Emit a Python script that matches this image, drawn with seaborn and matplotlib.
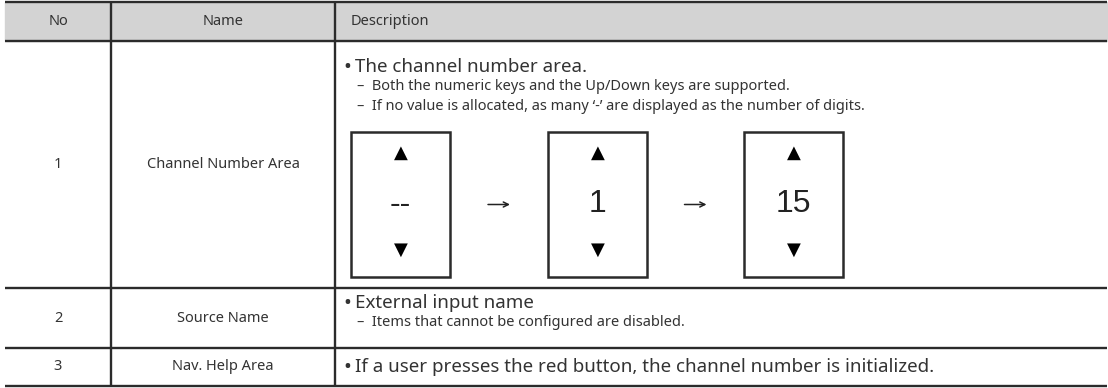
import matplotlib
matplotlib.use("Agg")
import matplotlib.pyplot as plt
import seaborn as sns

# --- table content ---
headers = ["No", "Name", "Description"]
row_numbers = ["1", "2", "3"]
row_names = ["Channel Number Area", "Source Name", "Nav. Help Area"]
bullets = [
    "The channel number area.",
    "External input name",
    "If a user presses the red button, the channel number is initialized.",
]
sub_items = [
    ["Both the numeric keys and the Up/Down keys are supported.",
     "If no value is allocated, as many \u2018-\u2019 are displayed as the number of digits."],
    ["Items that cannot be configured are disabled."],
    [],
]
box_values = ["--", "1", "15"]

# --- layout (pixels) ---
W, H = 1108, 388
col_edges = [5, 111, 335, 1107]
row_edges = [2, 41, 288, 348, 386]
text_color = "#333333"
line_color = "#2b2b2b"
header_bg = "#d3d3d3"

sns.set_theme(style="white")
plt.rcParams["font.family"] = ["Noto Sans", "DejaVu Sans"]

fig = plt.figure(figsize=(W / 100, H / 100), dpi=100)
ax = fig.add_axes([0, 0, 1, 1])
ax.set_xlim(0, W)
ax.set_ylim(H, 0)
ax.axis("off")

# header background
ax.add_patch(plt.Rectangle((col_edges[0], row_edges[0]), col_edges[-1] - col_edges[0],
                           row_edges[1] - row_edges[0], color=header_bg, zorder=0))

# grid lines
for y in row_edges:
    ax.plot([col_edges[0], col_edges[-1]], [y, y], color=line_color, lw=1.7, solid_capstyle="butt")
for x in col_edges[1:-1]:
    ax.plot([x, x], [row_edges[0], row_edges[-1]], color=line_color, lw=1.7, solid_capstyle="butt")

# header text
hy = (row_edges[0] + row_edges[1]) / 2
ax.text((col_edges[0] + col_edges[1]) / 2, hy, headers[0], ha="center", va="center", fontsize=10.5, color=text_color)
ax.text((col_edges[1] + col_edges[2]) / 2, hy, headers[1], ha="center", va="center", fontsize=10.5, color=text_color)
ax.text(col_edges[2] + 16, hy, headers[2], ha="left", va="center", fontsize=10.5, color=text_color)

# body rows
bullet_y = [67, 303, 367]
for i in range(3):
    cy = (row_edges[i + 1] + row_edges[i + 2]) / 2
    ax.text((col_edges[0] + col_edges[1]) / 2, cy, row_numbers[i], ha="center", va="center",
            fontsize=10.5, color=text_color)
    ax.text((col_edges[1] + col_edges[2]) / 2, cy, row_names[i], ha="center", va="center",
            fontsize=10.5, color=text_color)
    ax.text(col_edges[2] + 8, bullet_y[i], "\u2022", ha="left", va="center",
            fontsize=15, color=text_color)
    ax.text(col_edges[2] + 20, bullet_y[i], bullets[i], ha="left", va="center",
            fontsize=13.5, color=text_color)
    for j, s in enumerate(sub_items[i]):
        ax.text(col_edges[2] + 22, bullet_y[i] + 20 + 20 * j, "\u2013  " + s, ha="left", va="center",
                fontsize=10.5, color=text_color)

# channel number boxes
box_left = [351, 548, 744]
box_w, box_top, box_bot = 99, 132, 277
mid = (box_top + box_bot) / 2
for k, val in enumerate(box_values):
    x0 = box_left[k]
    ax.add_patch(plt.Rectangle((x0, box_top), box_w, box_bot - box_top, fill=False,
                               edgecolor=line_color, lw=1.8))
    cx = x0 + box_w / 2
    ax.text(cx, box_top + 21, "\u25b2", ha="center", va="center", fontsize=13,
            family="DejaVu Sans", color="black")
    ax.text(cx, box_bot - 27, "\u25bc", ha="center", va="center", fontsize=13,
            family="DejaVu Sans", color="black")
    ax.text(cx, mid, val, ha="center", va="center", fontsize=23,
            family="Liberation Sans", color="#222222")
    if k < len(box_values) - 1:
        ax_mid = (x0 + box_w + box_left[k + 1]) / 2
        ax.annotate("", xy=(ax_mid + 11, mid), xytext=(ax_mid - 11, mid),
                    arrowprops=dict(arrowstyle="->", lw=1.1, color="#222222",
                                    shrinkA=0, shrinkB=0, mutation_scale=9))

fig.savefig("out.png", dpi=100)
